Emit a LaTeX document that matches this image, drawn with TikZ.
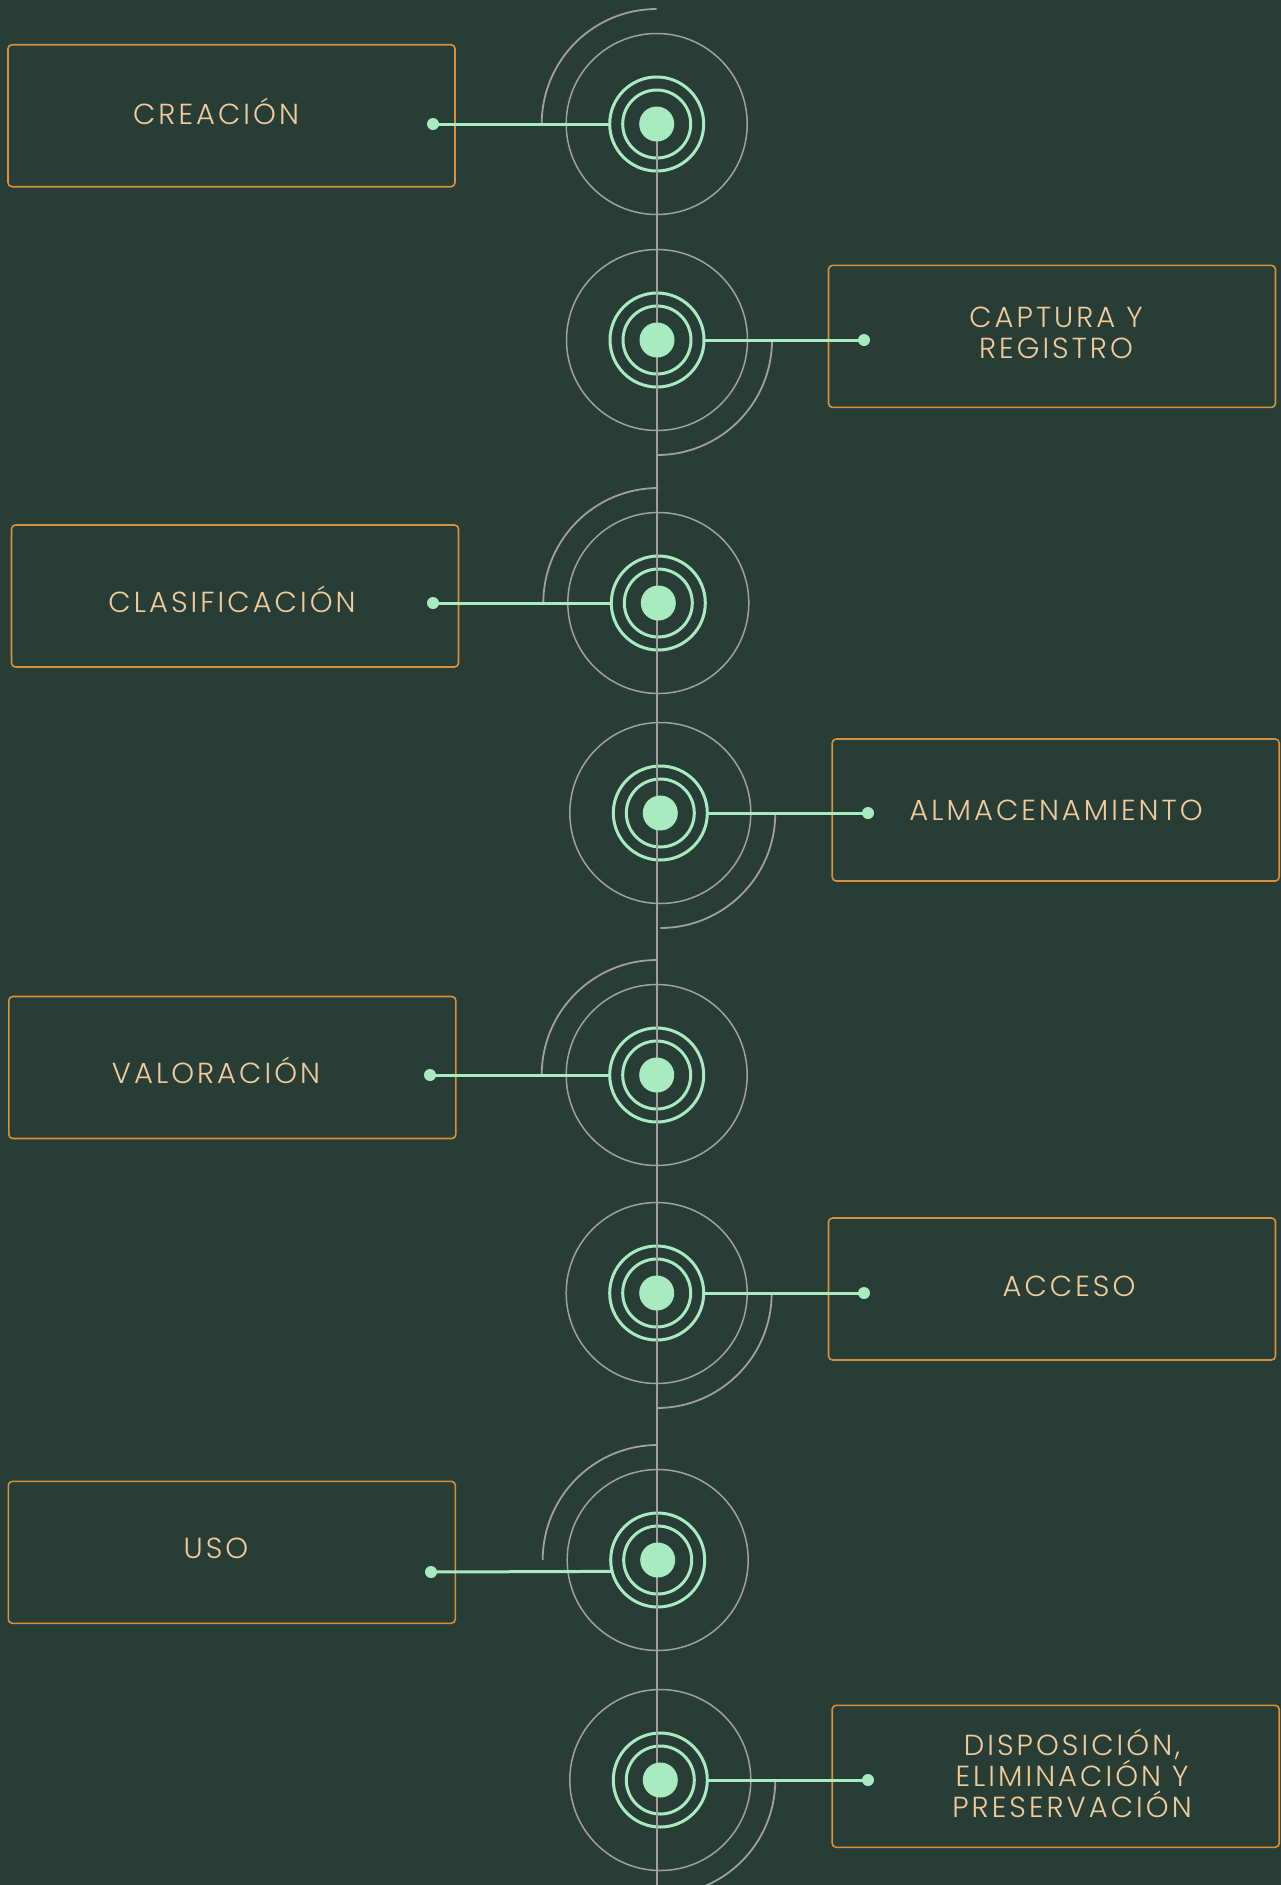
\documentclass[tikz,border=0pt]{standalone}
\usepackage{fontspec}
\setmainfont{Poppins}[UprightFont={* Light},LetterSpace=10.5]
\definecolor{bg}{HTML}{293D37}
\definecolor{mint}{HTML}{A8EBC1}
\definecolor{greyline}{HTML}{A0A0A0}
\definecolor{ochre}{HTML}{D8913A}
\definecolor{peach}{HTML}{F2CB9B}
\tikzset{
  boxstyle/.style={draw=ochre, line width=1.6pt, rounded corners=4pt, minimum width=447pt, minimum height=142pt, inner sep=0pt},
  labelstyle/.style={text=peach, align=center, font=\fontsize{29}{30.8}\selectfont, inner sep=0pt},
  dotstyle/.style={circle, fill=mint, minimum size=12pt, inner sep=0pt, outer sep=0pt},
  greyring/.style={circle, draw=greyline, line width=1.5pt, minimum size=181pt, inner sep=0pt},
  greyarc/.style={draw=greyline, line width=1.8pt},
  outerring/.style={circle, draw=mint, line width=3pt, minimum size=94pt, inner sep=0pt, outer sep=0pt},
  innerring/.style={circle, draw=mint, line width=3pt, minimum size=68pt, inner sep=0pt},
  diskstyle/.style={circle, fill=mint, minimum size=35pt, inner sep=0pt},
  connstyle/.style={draw=mint, line width=3pt},
  spine/.style={draw=greyline, line width=2pt}
}
\begin{document}
\begin{tikzpicture}[x=1pt,y=-1pt]
\fill[bg] (0,0) rectangle (1281,1885);
\useasboundingbox (0,0) rectangle (1281,1885);
% centres
\coordinate (c1) at (656.7,124);
\coordinate (c2) at (657,340);
\coordinate (c3) at (658.3,603);
\coordinate (c4) at (660.3,813);
\coordinate (c5) at (656.7,1075);
\coordinate (c6) at (656.7,1293);
\coordinate (c7) at (657.7,1560);
\coordinate (c8) at (660.3,1780);
\coordinate (vtop) at (656.7,124);
\coordinate (vbot) at (656.7,1885);
% boxes
\node[boxstyle] (b1) at (231.5,115.7) {};
\node[boxstyle] (b2) at (1052,336.4) {};
\node[boxstyle] (b3) at (235,596) {};
\node[boxstyle] (b4) at (1055.7,810) {};
\node[boxstyle] (b5) at (232.3,1067.5) {};
\node[boxstyle] (b6) at (1052,1289) {};
\node[boxstyle] (b7) at (231.8,1552.3) {};
\node[boxstyle] (b8) at (1055.7,1776.3) {};
% texts
\node[labelstyle] (t1) at (216,111.5) {CREACIÓN};
\node[labelstyle] (t2) at (1056,333) {CAPTURA Y\\REGISTRO};
\node[labelstyle] (t3) at (232,599) {CLASIFICACIÓN};
\node[labelstyle] (t4) at (1056,810.5) {ALMACENAMIENTO};
\node[labelstyle] (t5) at (216,1070.5) {VALORACIÓN};
\node[labelstyle] (t6) at (1069,1286.5) {ACCESO};
\node[labelstyle] (t7) at (216,1548.5) {USO};
\node[labelstyle] (t8) at (1072,1773.5) {DISPOSICIÓN,\\ELIMINACIÓN Y\\PRESERVACIÓN};
% grey circles and arcs
\foreach \i in {1,...,8} {
  \node[greyring] (g\i) at (c\i) {};
}
\foreach \i in {1,3,5,7} {
  \draw[greyarc] (c\i) ++(-115pt,0pt) arc[start angle=180, end angle=90, radius=115pt];
}
\foreach \i in {2,4,6,8} {
  \draw[greyarc] (c\i) ++(115pt,0pt) arc[start angle=0, end angle=-90, radius=115pt];
}
% green rings
\foreach \i in {1,...,8} {
  \node[outerring] (r\i) at (c\i) {};
  \node[innerring] (q\i) at (c\i) {};
}
% spine
\draw[spine] (vtop) -- (vbot);
% discs
\foreach \i in {1,...,8} {
  \node[diskstyle] (k\i) at (c\i) {};
}
% dots
\node[dotstyle] (d1) at (433,124) {};
\node[dotstyle] (d2) at (864,340) {};
\node[dotstyle] (d3) at (433,603) {};
\node[dotstyle] (d4) at (868,813) {};
\node[dotstyle] (d5) at (430,1075) {};
\node[dotstyle] (d6) at (864,1293) {};
\node[dotstyle] (d7) at (431,1572) {};
\node[dotstyle] (d8) at (868,1780) {};
% connectors
\draw[connstyle] (d1.center) -- (r1.west);
\draw[connstyle] (r2.east) -- (d2.center);
\draw[connstyle] (d3.center) -- (r3.west);
\draw[connstyle] (r4.east) -- (d4.center);
\draw[connstyle] (d5.center) -- (r5.west);
\draw[connstyle] (r6.east) -- (d6.center);
\draw[connstyle] (d7.center) -- (r7.194.8);
\draw[connstyle] (r8.east) -- (d8.center);
\end{tikzpicture}
\end{document}
